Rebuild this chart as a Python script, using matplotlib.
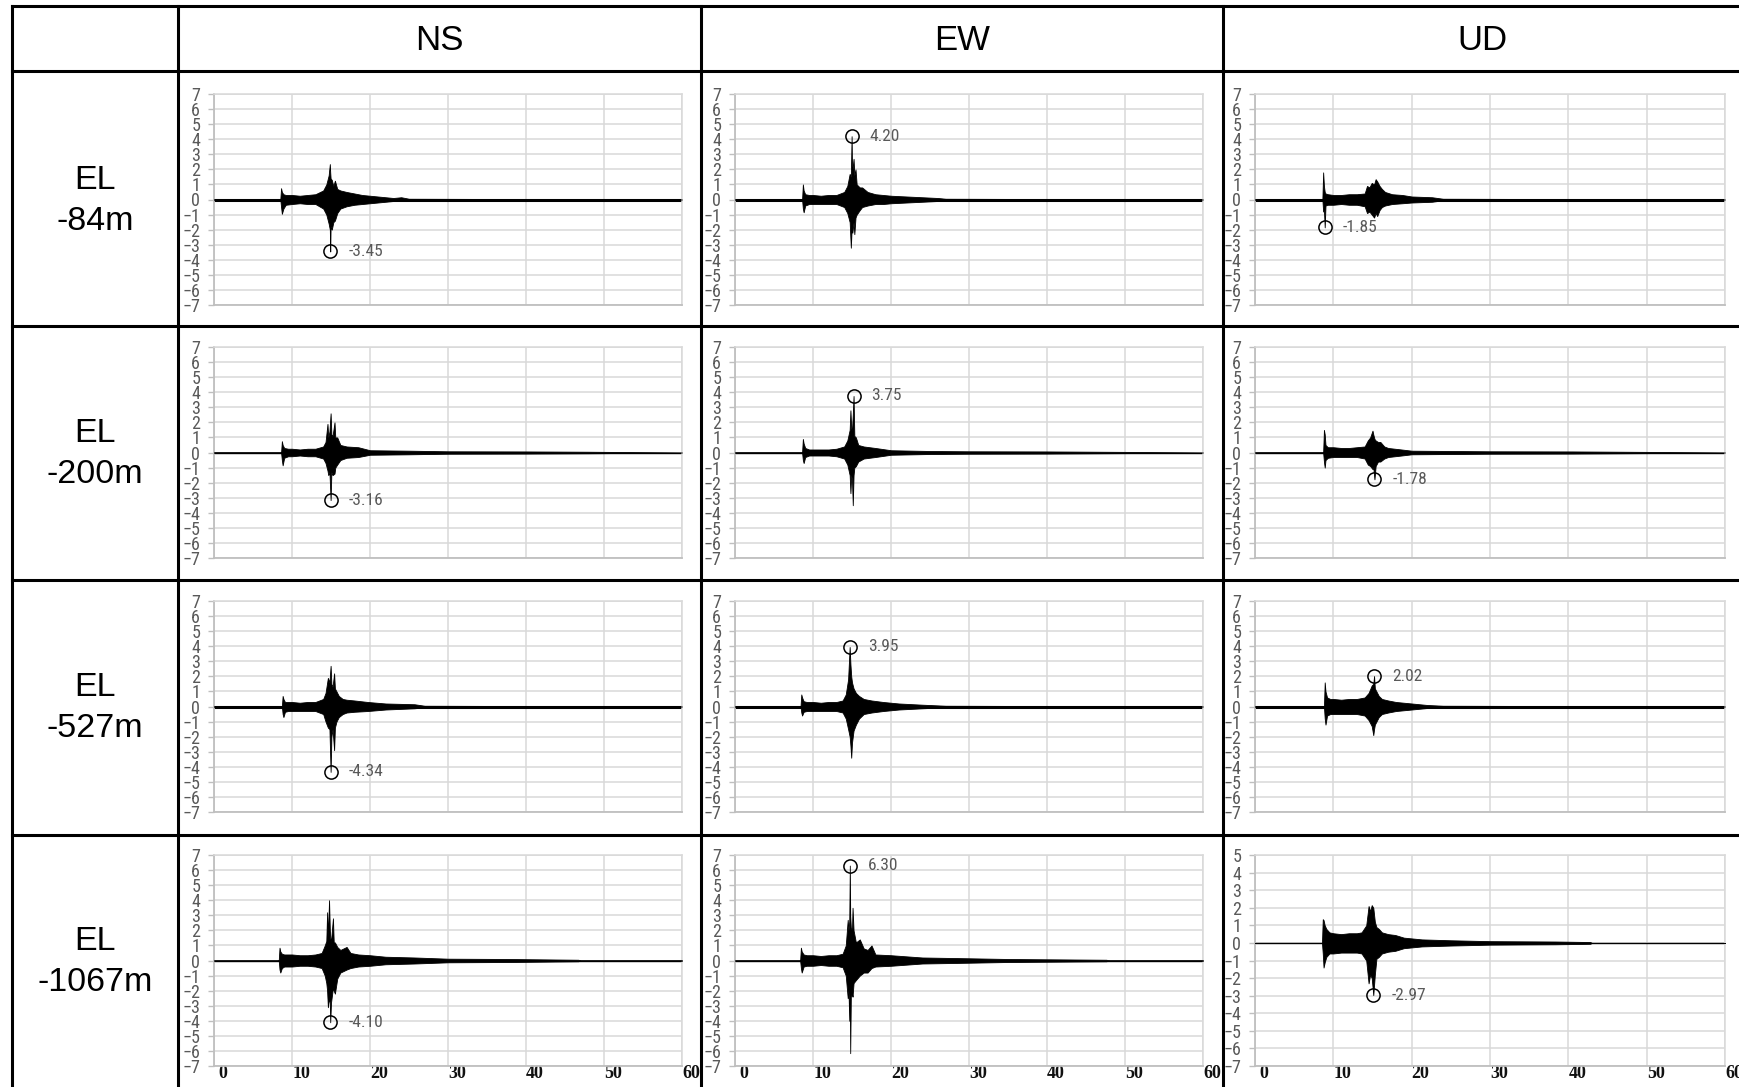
import matplotlib
matplotlib.use('Agg')
import matplotlib.pyplot as plt
from matplotlib.lines import Line2D
import matplotlib.transforms as mtransforms

# ---------------- data ----------------
COMPONENTS = ['NS', 'EW', 'UD']
ELEVATIONS = ['EL\n-84m', 'EL\n-200m', 'EL\n-527m', 'EL\n-1067m']
X_TICKS = [0, 10, 20, 30, 40, 50, 60]

# envelope of each record: time [s], upper and lower amplitude
NS84_T = [0, 8.5, 8.6, 8.7, 8.9, 9.2, 10, 11, 12, 13, 14.0, 14.4, 14.7, 14.85, 14.9, 14.95, 15.1, 15.3, 15.5, 15.8, 16.2, 17, 18, 19, 20, 21, 22, 23, 24, 25, 60]
NS84_HI = [0, 0, 0.75, 0.5, 0.35, 0.3, 0.3, 0.25, 0.3, 0.35, 0.6, 1.0, 1.6, 2.35, 1.8, 1.4, 1.3, 0.9, 1.25, 0.7, 0.6, 0.5, 0.4, 0.3, 0.25, 0.2, 0.15, 0.1, 0.15, 0.05, 0]
NS84_LO = [0, 0, -0.5, -0.95, -0.6, -0.35, -0.3, -0.25, -0.3, -0.3, -0.6, -1.0, -1.6, -2.0, -3.45, -1.8, -2.0, -1.5, -1.4, -0.9, -0.6, -0.45, -0.35, -0.3, -0.25, -0.2, -0.15, -0.1, -0.1, -0.05, 0]

EW84_T = [0, 8.6, 8.7, 8.8, 9.0, 9.5, 10, 11, 12, 13, 14.0, 14.4, 14.7, 14.85, 14.95, 15.0, 15.05, 15.2, 15.3, 15.45, 15.6, 16.0, 16.3, 17, 18, 19, 20, 22, 24, 26, 27, 60]
EW84_HI = [0, 0, 1.0, 0.6, 0.35, 0.3, 0.3, 0.25, 0.3, 0.3, 0.5, 0.9, 1.7, 1.5, 4.2, 2.2, 1.9, 2.7, 1.6, 2.0, 1.0, 0.8, 0.8, 0.5, 0.35, 0.3, 0.25, 0.2, 0.15, 0.1, 0.05, 0]
EW84_LO = [0, 0, -0.6, -0.85, -0.4, -0.3, -0.3, -0.3, -0.3, -0.3, -0.5, -0.9, -1.5, -3.2, -2.0, -1.8, -2.2, -1.5, -2.3, -1.2, -1.0, -0.7, -0.5, -0.4, -0.3, -0.3, -0.25, -0.2, -0.15, -0.1, -0.05, 0]

UD84_T = [0, 8.6, 8.7, 8.8, 8.9, 9.0, 9.3, 10, 11, 12, 13, 14.0, 14.3, 14.6, 14.9, 15.2, 15.4, 15.6, 15.9, 16.2, 16.6, 17.5, 18.8, 20, 22.6, 24, 60]
UD84_HI = [0, 0, 1.8, 0.9, 0.5, 0.4, 0.35, 0.3, 0.3, 0.35, 0.35, 0.4, 0.9, 0.8, 1.1, 1.0, 1.35, 1.2, 0.9, 0.7, 0.5, 0.35, 0.3, 0.2, 0.15, 0.05, 0]
UD84_LO = [0, 0, -0.8, -0.7, -1.85, -0.4, -0.35, -0.35, -0.3, -0.35, -0.35, -0.45, -0.9, -0.8, -1.0, -1.2, -0.9, -1.1, -0.7, -0.5, -0.4, -0.3, -0.25, -0.2, -0.15, -0.05, 0]

NS200_T = [0, 8.6, 8.7, 8.8, 9.0, 9.5, 10, 11, 12, 13, 14.0, 14.3, 14.55, 14.65, 14.8, 14.95, 15.05, 15.2, 15.45, 15.55, 15.8, 16.2, 17, 18.5, 20, 25, 30, 40, 48, 60]
NS200_HI = [0, 0, 0.75, 0.5, 0.3, 0.25, 0.25, 0.2, 0.25, 0.25, 0.4, 0.7, 1.9, 1.0, 1.4, 2.6, 1.2, 1.1, 2.0, 1.0, 1.0, 0.5, 0.4, 0.35, 0.15, 0.12, 0.08, 0.07, 0.05, 0]
NS200_LO = [0, 0, -0.5, -0.85, -0.35, -0.25, -0.25, -0.2, -0.25, -0.25, -0.4, -0.7, -1.2, -1.5, -1.3, -3.16, -1.3, -1.5, -1.4, -1.0, -0.8, -0.5, -0.35, -0.3, -0.15, -0.12, -0.08, -0.07, -0.05, 0]

EW200_T = [0, 8.6, 8.7, 8.8, 9.0, 9.5, 10, 11, 12, 13, 14.0, 14.4, 14.7, 14.8, 14.9, 15.0, 15.1, 15.2, 15.3, 15.5, 15.8, 16.5, 18, 20, 25, 30, 40, 50, 60]
EW200_HI = [0, 0, 0.9, 0.6, 0.3, 0.2, 0.2, 0.2, 0.2, 0.25, 0.4, 0.8, 1.5, 2.8, 1.6, 1.5, 2.5, 3.75, 1.1, 1.0, 0.5, 0.4, 0.3, 0.15, 0.1, 0.08, 0.07, 0.04, 0]
EW200_LO = [0, 0, -0.5, -0.7, -0.3, -0.2, -0.2, -0.2, -0.2, -0.25, -0.4, -0.8, -1.5, -2.7, -1.5, -1.8, -3.5, -1.5, -1.0, -0.9, -0.6, -0.4, -0.3, -0.15, -0.1, -0.08, -0.07, -0.04, 0]

UD200_T = [0, 8.7, 8.8, 8.9, 9.0, 9.3, 10, 11, 12, 13, 14.0, 14.4, 14.7, 15.0, 15.1, 15.25, 15.4, 15.7, 16.0, 16.5, 17, 18.7, 20, 25, 30, 40.5, 50, 60]
UD200_HI = [0, 0, 1.5, 1.2, 0.5, 0.35, 0.35, 0.3, 0.3, 0.35, 0.4, 0.8, 1.0, 1.45, 1.2, 0.9, 0.8, 0.7, 0.7, 0.4, 0.3, 0.2, 0.12, 0.1, 0.08, 0.07, 0.04, 0]
UD200_LO = [0, 0, -0.6, -1.0, -0.5, -0.35, -0.3, -0.3, -0.3, -0.3, -0.4, -0.8, -0.9, -1.1, -1.0, -1.78, -0.9, -0.6, -0.6, -0.4, -0.3, -0.2, -0.12, -0.1, -0.08, -0.07, -0.04, 0]

NS527_T = [0, 8.7, 8.8, 8.9, 9.1, 9.5, 10, 11, 12, 13, 14.0, 14.3, 14.6, 14.8, 14.95, 15.05, 15.2, 15.4, 15.5, 15.7, 16.0, 16.5, 17, 18, 19.7, 22, 25.7, 27, 60]
NS527_HI = [0, 0, 0.7, 0.5, 0.3, 0.3, 0.3, 0.25, 0.3, 0.3, 0.5, 0.9, 1.9, 1.6, 2.7, 1.5, 1.3, 2.2, 1.2, 1.0, 0.7, 0.5, 0.45, 0.4, 0.3, 0.2, 0.15, 0.05, 0]
NS527_LO = [0, 0, -0.5, -0.7, -0.35, -0.3, -0.3, -0.3, -0.3, -0.3, -0.5, -1.0, -1.4, -1.5, -4.34, -2.0, -1.5, -2.9, -1.4, -1.0, -0.7, -0.5, -0.4, -0.35, -0.3, -0.2, -0.12, -0.05, 0]

EW527_T = [0, 8.4, 8.5, 8.6, 8.8, 9.2, 10, 11, 12, 13, 13.8, 14.2, 14.5, 14.7, 14.8, 14.9, 15.0, 15.2, 15.5, 15.9, 16.5, 17.5, 19, 21, 24, 27, 60]
EW527_HI = [0, 0, 0.8, 0.6, 0.35, 0.3, 0.3, 0.25, 0.3, 0.3, 0.4, 0.8, 1.8, 3.95, 2.8, 2.0, 1.6, 1.2, 0.9, 0.7, 0.5, 0.4, 0.3, 0.2, 0.12, 0.05, 0]
EW527_LO = [0, 0, -0.4, -0.6, -0.35, -0.3, -0.3, -0.3, -0.3, -0.3, -0.4, -0.8, -1.5, -2.0, -2.6, -3.4, -2.4, -1.6, -1.2, -0.8, -0.5, -0.4, -0.3, -0.2, -0.12, -0.05, 0]

UD527_T = [0, 8.8, 8.9, 9.0, 9.2, 9.6, 10, 11, 12, 13, 14.0, 14.5, 14.9, 15.1, 15.2, 15.3, 15.5, 15.8, 16.2, 17, 18, 20, 22, 24, 60]
UD527_HI = [0, 0, 1.6, 1.0, 0.6, 0.5, 0.5, 0.45, 0.5, 0.5, 0.6, 0.9, 1.4, 1.5, 2.02, 1.2, 1.0, 0.7, 0.5, 0.4, 0.3, 0.2, 0.1, 0.05, 0]
UD527_LO = [0, 0, -0.8, -1.2, -0.6, -0.5, -0.5, -0.5, -0.5, -0.5, -0.6, -0.9, -1.3, -1.9, -1.5, -1.2, -1.0, -0.7, -0.5, -0.4, -0.3, -0.2, -0.1, -0.05, 0]

NS1067_T = [0, 8.3, 8.4, 8.5, 8.7, 9.0, 10, 11, 12, 13, 13.8, 14.2, 14.4, 14.5, 14.6, 14.75, 14.85, 14.9, 15.0, 15.25, 15.35, 15.5, 15.8, 16.2, 17.0, 17.5, 18.5, 20, 22, 25.7, 30, 37.7, 46.7, 47, 60]
NS1067_HI = [0, 0, 0.85, 0.6, 0.45, 0.4, 0.4, 0.35, 0.35, 0.4, 0.5, 1.0, 1.3, 3.2, 1.6, 4.0, 2.0, 1.5, 1.3, 2.8, 1.2, 1.2, 0.9, 0.7, 0.9, 0.5, 0.4, 0.35, 0.25, 0.2, 0.12, 0.1, 0.05, 0, 0]
NS1067_LO = [0, 0, -0.6, -0.8, -0.5, -0.4, -0.4, -0.35, -0.35, -0.4, -0.5, -1.0, -1.5, -2.0, -3.1, -2.5, -2.8, -4.1, -2.8, -1.8, -2.0, -2.2, -1.2, -0.8, -0.6, -0.5, -0.4, -0.35, -0.25, -0.2, -0.12, -0.1, -0.05, 0, 0]

EW1067_T = [0, 8.35, 8.45, 8.55, 8.8, 9.2, 10, 11, 12, 13, 13.8, 14.2, 14.45, 14.55, 14.65, 14.72, 14.77, 14.85, 15.0, 15.07, 15.2, 15.5, 16.0, 16.5, 17.0, 17.5, 18, 20, 24, 29.7, 35, 40, 47.6, 48, 60]
EW1067_HI = [0, 0, 0.85, 0.6, 0.4, 0.35, 0.35, 0.3, 0.35, 0.35, 0.45, 1.0, 2.7, 2.0, 2.6, 6.3, 3.0, 2.2, 2.0, 3.5, 2.0, 1.2, 1.4, 0.8, 0.7, 1.0, 0.4, 0.35, 0.2, 0.15, 0.1, 0.08, 0.05, 0, 0]
EW1067_LO = [0, 0, -0.5, -0.8, -0.4, -0.35, -0.35, -0.3, -0.35, -0.35, -0.45, -1.0, -2.5, -2.0, -4.0, -2.5, -6.15, -2.4, -2.2, -2.4, -1.5, -1.3, -1.0, -0.8, -0.8, -0.5, -0.4, -0.35, -0.2, -0.15, -0.1, -0.08, -0.05, 0, 0]

UD1067_T = [0, 8.55, 8.65, 8.75, 8.9, 9.1, 9.5, 10, 11, 12, 13, 13.6, 14.2, 14.5, 14.7, 14.9, 15.1, 15.3, 15.5, 15.8, 16.2, 17.0, 17.9, 19, 21.3, 25, 30, 38.3, 42.8, 43, 60]
UD1067_HI = [0, 0, 1.35, 1.3, 1.0, 0.8, 0.6, 0.55, 0.5, 0.55, 0.55, 0.6, 1.0, 2.1, 1.8, 2.15, 2.0, 1.2, 0.9, 0.8, 0.6, 0.5, 0.45, 0.3, 0.2, 0.15, 0.1, 0.08, 0.05, 0, 0]
UD1067_LO = [0, 0, -0.6, -1.4, -1.1, -0.8, -0.6, -0.6, -0.55, -0.55, -0.55, -0.6, -1.0, -2.3, -1.8, -2.0, -2.97, -1.8, -0.9, -0.8, -0.6, -0.5, -0.45, -0.3, -0.2, -0.15, -0.1, -0.08, -0.05, 0, 0]

# peak values (time, value) per row (NS, EW, UD)
PEAK_T = [[14.9, 14.95, 8.9], [14.95, 15.2, 15.25], [14.95, 14.7, 15.2], [14.9, 14.72, 15.1]]
PEAK_V = [[-3.45, 4.20, -1.85], [-3.16, 3.75, -1.78], [-4.34, 3.95, 2.02], [-4.10, 6.30, -2.97]]

# y-axis range per row (NS, EW, UD)
Y_MIN = [[-7, -7, -7], [-7, -7, -7], [-7, -7, -7], [-7, -7, -7]]
Y_MAX = [[7, 7, 7], [7, 7, 7], [7, 7, 7], [7, 7, 5]]

RECORDS = [
    [(NS84_T, NS84_HI, NS84_LO), (EW84_T, EW84_HI, EW84_LO), (UD84_T, UD84_HI, UD84_LO)],
    [(NS200_T, NS200_HI, NS200_LO), (EW200_T, EW200_HI, EW200_LO), (UD200_T, UD200_HI, UD200_LO)],
    [(NS527_T, NS527_HI, NS527_LO), (EW527_T, EW527_HI, EW527_LO), (UD527_T, UD527_HI, UD527_LO)],
    [(NS1067_T, NS1067_HI, NS1067_LO), (EW1067_T, EW1067_HI, EW1067_LO), (UD1067_T, UD1067_HI, UD1067_LO)],
]

# ---------------- layout ----------------
W, H = 1740, 1087
fig = plt.figure(figsize=(W / 100, H / 100), dpi=100)
fig.patch.set_facecolor('white')

def fx(px):
    return px / W

def fy(py):
    return 1 - py / H

COND = ['Liberation Sans Narrow', 'Roboto Condensed', 'DejaVu Sans']
SANS = ['Liberation Sans', 'DejaVu Sans']
SERIF = ['Liberation Serif', 'DejaVu Serif']

col_left = [214, 735, 1255]
col_width = [468, 468, 470]
row_top = [94, 347, 601, 855]
plot_h = 211
base_lw = [2.2, 1.0, 2.2, 1.0]

for r in range(4):
    for c in range(3):
        left = col_left[c]
        top = row_top[r]
        ax = fig.add_axes([fx(left), fy(top + plot_h), col_width[c] / W, plot_h / H])
        t, hi, lo = RECORDS[r][c]
        ymin, ymax = Y_MIN[r][c], Y_MAX[r][c]
        ax.set_xlim(0, 60)
        ax.set_ylim(ymin, ymax)
        ax.set_xticks(X_TICKS)
        ax.set_yticks(list(range(ymin, ymax + 1)))
        ax.grid(True, color='#d9d9d9', lw=1.1, zorder=0)
        ax.set_axisbelow(True)
        for side in ['top', 'right']:
            ax.spines[side].set_color('#d9d9d9')
            ax.spines[side].set_linewidth(1.1)
        for side in ['left', 'bottom']:
            ax.spines[side].set_color('#bfbfbf')
            ax.spines[side].set_linewidth(1.3)
        ax.tick_params(axis='y', direction='out', length=4, width=1, color='#bfbfbf',
                       pad=6, labelsize=13, labelcolor='#595959')
        for lab in ax.get_yticklabels():
            lab.set_fontfamily(COND)
            lab.set_fontstretch('condensed')
        if r == 3:
            ax.tick_params(axis='x', length=0, pad=0, labelsize=13, labelcolor='#111111')
            offset = mtransforms.ScaledTranslation(9 / 100, 1 / 100, fig.dpi_scale_trans)
            for lab in ax.get_xticklabels():
                lab.set_fontfamily(SERIF)
                lab.set_fontweight('bold')
                lab.set_transform(lab.get_transform() + offset)
        else:
            ax.tick_params(axis='x', length=0, labelbottom=False)

        ax.axhline(0, color='black', lw=base_lw[r], zorder=2)
        ax.fill_between(t, lo, hi, color='black', lw=0.6, zorder=3)

        pt, pv = PEAK_T[r][c], PEAK_V[r][c]
        ax.plot([pt], [pv], marker='o', ms=9.5, mfc='none', mec='black', mew=1.1,
                zorder=4, clip_on=False)
        ax.annotate(f'{pv:.2f}', (pt, pv), xytext=(13, 0), textcoords='offset points',
                    va='center', ha='left', fontsize=12.5, color='#595959',
                    family=COND, fontstretch='condensed', zorder=5)

# ---------------- table frame and labels ----------------
def hline(y, x0, x1, lw=2.2):
    fig.add_artist(Line2D([fx(x0), fx(x1)], [fy(y), fy(y)], transform=fig.transFigure,
                          color='black', lw=lw, solid_capstyle='projecting'))

def vline(x, y0, y1, lw=2.2):
    fig.add_artist(Line2D([fx(x), fx(x)], [fy(y0), fy(y1)], transform=fig.transFigure,
                          color='black', lw=lw, solid_capstyle='projecting'))

for y in [6, 71, 326, 580, 835]:
    hline(y, 12, W + 5)
for x in [12, 178, 701, 1223]:
    vline(x, 6, H + 5)

col_centers = [439.5, 962, 1482]
for name, xc in zip(COMPONENTS, col_centers):
    fig.text(fx(xc), fy(41), name, ha='center', va='center', fontsize=25,
             family=SANS, color='black')

row_centers = [201, 454, 708, 962]
for lab, yc in zip(ELEVATIONS, row_centers):
    fig.text(fx(95), fy(yc), lab, ha='center', va='center', fontsize=24.5,
             family=SANS, color='black', linespacing=1.45)

fig.savefig('out.png', dpi=100, facecolor='white')
